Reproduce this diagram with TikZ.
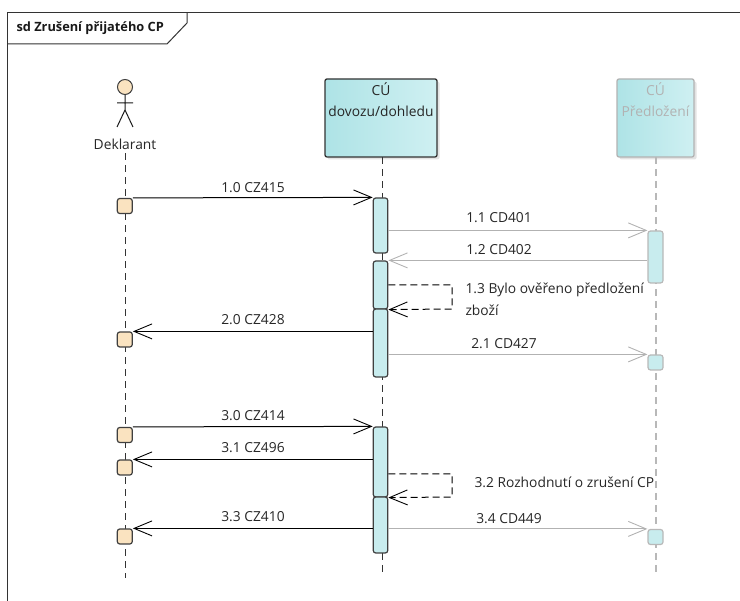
\documentclass[tikz,border=0pt]{standalone}
\usepackage{fontspec}
\setmainfont{Open Sans}
\usetikzlibrary{arrows.meta, shadows}
\definecolor{lanel}{HTML}{AEE3E6}
\definecolor{laner}{HTML}{CFF0F2}
\definecolor{actfill}{HTML}{C8ECEE}
\definecolor{actorfill}{HTML}{FAE3C0}

\begin{document}
\begin{tikzpicture}[x=1pt,y=-1pt,
    line width=1pt,
    every node/.style={font=\fontsize{13.8}{16}\selectfont, text=black!85},
    tip/.style={-{Straight Barb[length=18pt,width=15pt,line width=0.9pt]}},
    life/.style={dash pattern=on 7pt off 5pt, black!80},
    lifegray/.style={dash pattern=on 7pt off 5pt, line width=1.2pt, black!28},
    msg/.style={black},
    msggray/.style={line width=1.2pt, black!30},
    self/.style={dash pattern=on 7pt off 4pt, black},
    lane/.style={draw=black!80, line width=1.3pt, rounded corners=2pt, left color=lanel, right color=laner, minimum width=112pt, minimum height=78pt, align=center, inner sep=0pt, drop shadow={shadow xshift=2.5pt, shadow yshift=-2.5pt, fill=black!22}},
    lanegray/.style={lane, draw=black!30, minimum width=77pt, text=black!30},
    act/.style={draw=black!75, line width=1.2pt, fill=actfill, rounded corners=2.5pt, minimum width=14.5pt, inner sep=0pt},
    actgray/.style={draw=black!28, line width=1.2pt, fill=actfill, rounded corners=2.5pt, minimum width=15pt, inner sep=0pt},
    ext/.style={draw=black!75, fill=actorfill, line width=1.2pt, rounded corners=2.5pt, minimum width=15pt, minimum height=15pt, inner sep=0pt}]
  \useasboundingbox (0,0) rectangle (740,601);

  \draw[black!80] (7,601) -- (7,13) -- (740,13);
  \node[anchor=west, inner sep=0pt, font=\fontsize{12.8}{16}\bfseries\selectfont, text=black!90] (title) at (16,28.5) {sd Zrušení přijatého CP};
  \draw[black!80] (187,13) -- (187,23) -- (167,44) -- (7,44);

  \node[draw=black!75, fill=actorfill, circle, minimum size=15pt, inner sep=0pt] (head) at (125,87) {};
  \coordinate (hip) at (125,110);
  \coordinate (armL) at (117,103);
  \coordinate (armR) at (133,103);
  \coordinate (footL) at (117,127);
  \coordinate (footR) at (133,127);
  \draw[black!90] (head) -- (hip) (armL) -- (armR) (footL) -- (hip) -- (footR);
  \node (deklarant) at (125,144) {Deklarant};

  \node[lane] (dovoz) at (381,118) {CÚ\\[5pt]dovozu/dohledu\\[17pt]\strut};
  \node[lanegray] (predl) at (655.5,118) {CÚ\\[5pt]Předložení\\[17pt]\strut};

  \coordinate (endL) at (125,578);
  \coordinate (endC) at (382,573);
  \coordinate (endR) at (656,573);
  \draw[life] (deklarant) -- (endL);
  \draw[life] (382,157) -- (endC);
  \draw[lifegray] (656,157) -- (endR);

  \node[ext] (l1) at (124.8,206) {};
  \node[ext] (l2) at (124.8,339.5) {};
  \node[ext] (l3) at (124.8,435) {};
  \node[ext] (l4) at (124.8,467.5) {};
  \node[ext] (l5) at (124.8,536.5) {};

  \node[act, minimum height=55pt] (c1) at (380.5,225.5) {};
  \node[act, minimum height=48pt] (c2) at (380.5,285) {};
  \node[act, minimum height=68pt] (c3) at (380.5,343) {};
  \node[act, minimum height=70pt] (c4) at (380.5,462) {};
  \node[act, minimum height=56pt] (c5) at (380.5,525) {};

  \node[actgray, minimum height=52pt] (r1) at (655.5,257) {};
  \node[actgray, minimum height=15pt] (r2) at (655.5,362.5) {};
  \node[actgray, minimum height=15pt] (r3) at (655.5,537) {};

  \coordinate (t1) at (452,285);
  \coordinate (t2) at (452,309);
  \coordinate (t3) at (452,474);
  \coordinate (t4) at (452,497);

  \draw[msg,tip] (l1.north east) -- (c1.north west);
  \draw[msggray,tip] (c1.east |- r1.north) -- (r1.north west);
  \draw[msggray,tip] (r1.west |- c2.north) -- (c2.north east);
  \draw[self,tip] (c2.east) -- (t1) -- (t2) -- (c2.south east);
  \draw[msg,tip] (c3.west |- l2.north) -- (l2.north east);
  \draw[msggray,tip] (c3.east |- r2.north) -- (r2.north west);
  \draw[msg,tip] (l3.north east) -- (c4.north west);
  \draw[msg,tip] (c4.west |- l4.north) -- (l4.north east);
  \draw[self,tip] (c4.east |- t3) -- (t3) -- (t4) -- (c4.south east);
  \draw[msg,tip] (c5.west |- l5.north) -- (l5.north east);
  \draw[msggray,tip] (c5.east |- r3.north) -- (r3.north west);

  \node (m10) at (253,188) {1.0 CZ415};
  \node (m11) at (499,218) {1.1 CD401};
  \node (m12) at (499,250) {1.2 CD402};
  \node[anchor=west, inner sep=0pt] (m13) at (465,290) {1.3 Bylo ověřeno předložení};
  \node[anchor=west, inner sep=0pt] (m13b) at (465,310) {zboží};
  \node (m20) at (253,320) {2.0 CZ428};
  \node (m21) at (504,344) {2.1 CD427};
  \node (m30) at (253,416) {3.0 CZ414};
  \node (m31) at (253,448) {3.1 CZ496};
  \node[anchor=west, inner sep=0pt] (m32) at (474,482) {3.2 Rozhodnutí o zrušení CP};
  \node (m33) at (253,517) {3.3 CZ410};
  \node (m34) at (509,519) {3.4 CD449};
\end{tikzpicture}
\end{document}
